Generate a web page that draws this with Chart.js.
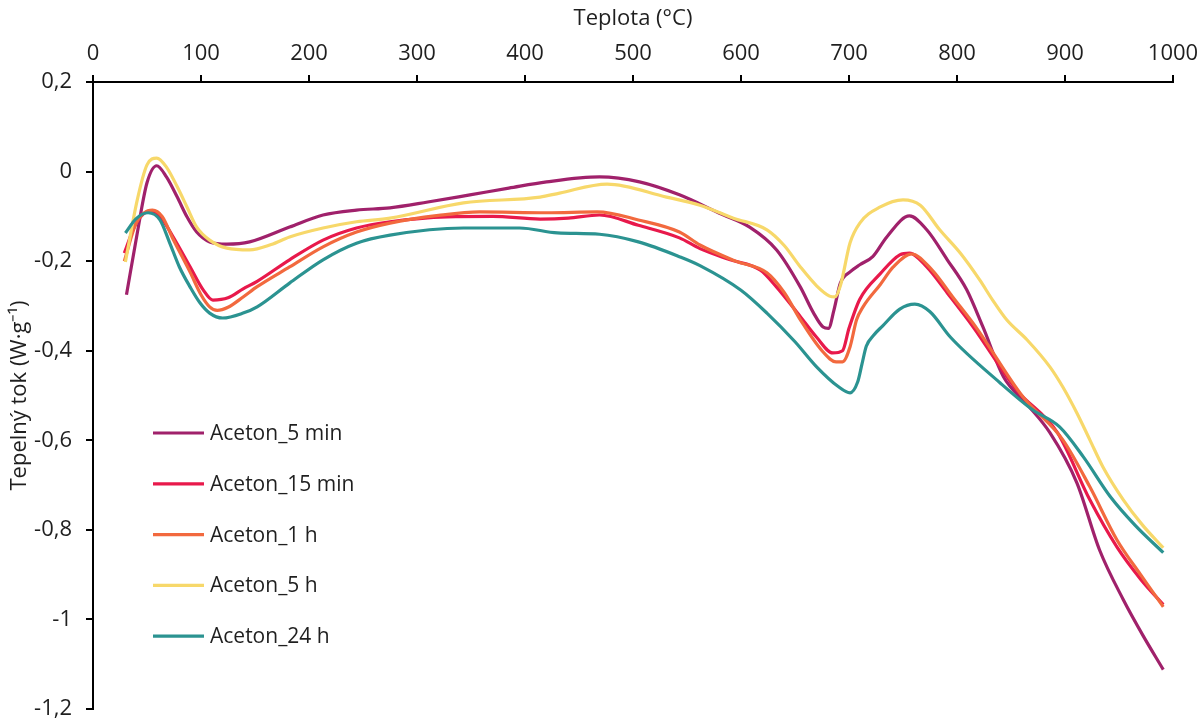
<!DOCTYPE html>
<html>
<head>
<meta charset="utf-8">
<script src="https://cdn.jsdelivr.net/npm/chart.js@4"></script>
<style>
  body { margin: 0; background: #fff; }
  canvas { display: block; }
</style>
</head>
<body>
<canvas id="dscChart" width="1202" height="722"></canvas>
<script>
// Series labels and colours
const seriesNames = ['Aceton_5 min', 'Aceton_15 min', 'Aceton_1 h', 'Aceton_5 h', 'Aceton_24 h'];
const seriesColors = ['#A0216B', '#E8194B', '#F2693E', '#F7D86A', '#2B9391'];

// Teplota (°C) / tepelny tok values
const temp5min = [31, 41, 50, 59, 68, 78, 87, 96, 108, 124, 145, 182, 213, 244, 275, 310, 349, 385, 420, 469, 506, 543, 580, 608, 633, 655, 667, 676, 681, 686, 692, 701, 710, 722, 735, 756, 772, 791, 809, 824, 843, 865, 886, 911, 932, 954, 972, 991];
const flow5min = [-0.275, -0.137, -0.025, 0.013, -0.012, -0.057, -0.101, -0.135, -0.157, -0.162, -0.157, -0.124, -0.097, -0.086, -0.081, -0.068, -0.052, -0.037, -0.023, -0.012, -0.023, -0.052, -0.093, -0.124, -0.175, -0.258, -0.315, -0.347, -0.35, -0.31, -0.249, -0.224, -0.208, -0.19, -0.146, -0.099, -0.13, -0.197, -0.264, -0.347, -0.458, -0.52, -0.583, -0.695, -0.845, -0.956, -1.035, -1.112];

const temp15min = [29, 40, 53, 62, 74, 90, 102, 111, 125, 139, 152, 182, 213, 244, 275, 328, 370, 414, 440, 469, 505, 543, 562, 590, 618, 633, 655, 670, 685, 694, 700, 710, 729, 747, 756, 772, 791, 815, 855, 893, 923, 948, 970, 991];
const flow15min = [-0.182, -0.115, -0.088, -0.1, -0.145, -0.213, -0.264, -0.287, -0.282, -0.262, -0.245, -0.197, -0.153, -0.126, -0.112, -0.101, -0.1, -0.106, -0.104, -0.097, -0.12, -0.148, -0.172, -0.197, -0.22, -0.258, -0.324, -0.37, -0.405, -0.4, -0.35, -0.285, -0.228, -0.186, -0.182, -0.213, -0.271, -0.347, -0.487, -0.583, -0.733, -0.838, -0.91, -0.967];

const temp1h = [29, 40, 55, 64, 74, 90, 100, 108, 115, 125, 139, 152, 182, 213, 244, 275, 320, 358, 420, 467, 505, 543, 562, 595, 624, 640, 655, 675, 688, 694, 701, 707, 713, 729, 741, 758, 777, 796, 818, 861, 898, 923, 948, 970, 991];
const flow1h = [-0.2, -0.115, -0.086, -0.1, -0.15, -0.225, -0.275, -0.302, -0.31, -0.303, -0.28, -0.257, -0.213, -0.168, -0.135, -0.115, -0.098, -0.09, -0.092, -0.09, -0.108, -0.135, -0.164, -0.2, -0.226, -0.27, -0.331, -0.4, -0.425, -0.425, -0.391, -0.331, -0.302, -0.252, -0.213, -0.184, -0.22, -0.28, -0.349, -0.503, -0.599, -0.704, -0.822, -0.9, -0.972];

const temp5h = [30, 41, 50, 59, 68, 78, 87, 96, 108, 124, 145, 165, 182, 213, 244, 275, 343, 414, 432, 476, 531, 562, 593, 624, 640, 655, 670, 682, 687, 692, 701, 710, 729, 750, 766, 784, 803, 821, 833, 846, 865, 886, 898, 911, 923, 935, 954, 972, 991];
const flow5h = [-0.202, -0.063, 0.015, 0.03, 0.01, -0.034, -0.079, -0.124, -0.153, -0.171, -0.175, -0.163, -0.146, -0.126, -0.112, -0.104, -0.07, -0.057, -0.048, -0.028, -0.057, -0.075, -0.104, -0.13, -0.165, -0.213, -0.255, -0.278, -0.28, -0.255, -0.159, -0.115, -0.079, -0.063, -0.075, -0.13, -0.182, -0.242, -0.287, -0.331, -0.376, -0.436, -0.481, -0.539, -0.599, -0.659, -0.733, -0.79, -0.84];

const temp24h = [30, 40, 51, 62, 71, 80, 90, 99, 108, 120, 139, 152, 182, 213, 244, 275, 343, 395, 430, 469, 505, 543, 562, 600, 624, 650, 670, 690, 701, 708, 712, 716, 723, 731, 747, 761, 775, 794, 840, 870, 895, 917, 942, 965, 991];
const flow24h = [-0.137, -0.105, -0.092, -0.108, -0.159, -0.213, -0.258, -0.293, -0.316, -0.327, -0.316, -0.302, -0.249, -0.197, -0.16, -0.142, -0.126, -0.126, -0.137, -0.14, -0.157, -0.19, -0.21, -0.265, -0.316, -0.38, -0.436, -0.48, -0.494, -0.47, -0.43, -0.39, -0.365, -0.345, -0.307, -0.296, -0.313, -0.37, -0.472, -0.532, -0.57, -0.637, -0.726, -0.79, -0.851];

const xTicksMin = 0, xTicksMax = 1000, xStep = 100;
const yTicksMin = -1.2, yTicksMax = 0.2, yStep = 0.2;

const allTemps = [temp5min, temp15min, temp1h, temp5h, temp24h];
const allFlows = [flow5min, flow15min, flow1h, flow5h, flow24h];

const tickFont = { family: 'Open Sans', size: 22 };
const textColor = '#1f1f1f';

const datasets = seriesNames.map((name, i) => ({
  label: name,
  data: allTemps[i].map((t, j) => ({ x: t, y: allFlows[i][j] })),
  borderColor: seriesColors[i],
  backgroundColor: seriesColors[i],
  borderWidth: 3.2,
  pointRadius: 0,
  cubicInterpolationMode: 'monotone',
  fill: false,
  order: seriesNames.length - i // later series on top, like the original
}));

// legend drawn inside the plot area, lines + labels
const insideLegend = {
  id: 'insideLegend',
  afterDatasetsDraw(chart) {
    const c = chart.ctx;
    c.save();
    c.font = '21px "Open Sans"';
    c.textBaseline = 'middle';
    c.fillStyle = textColor;
    chart.data.datasets.forEach((ds, i) => {
      const y = 433 + i * 50.8;
      c.strokeStyle = ds.borderColor;
      c.lineWidth = 3.2;
      c.beginPath();
      c.moveTo(153, y);
      c.lineTo(204, y);
      c.stroke();
      c.fillText(ds.label, 210, y + 1);
    });
    c.restore();
  }
};

const ctx = document.getElementById('dscChart').getContext('2d');
new Chart(ctx, {
  type: 'line',
  data: { datasets: datasets },
  plugins: [insideLegend],
  options: {
    responsive: false,
    animation: false,
    layout: { padding: { left: 0, right: 29, top: 0, bottom: 13 } },
    plugins: {
      legend: { display: false },
      tooltip: { enabled: false }
    },
    scales: {
      x: {
        type: 'linear',
        position: 'top',
        min: xTicksMin,
        max: xTicksMax,
        ticks: { stepSize: xStep, padding: 8, font: tickFont, color: textColor, maxRotation: 0, callback: (v) => String(v) },
        grid: { drawOnChartArea: false, drawTicks: true, tickLength: 7, color: '#000', lineWidth: 2 },
        border: { display: true, color: '#000', width: 2 },
        title: { display: true, text: 'Teplota (°C)', font: tickFont, color: textColor, padding: { top: 6, bottom: 0 } },
        afterFit: (scale) => { scale.height = 82; scale.paddingLeft = 0; scale.paddingRight = 0; }
      },
      y: {
        type: 'linear',
        min: yTicksMin,
        max: yTicksMax,
        ticks: {
          stepSize: yStep,
          padding: 14,
          font: tickFont,
          color: textColor,
          callback: (v) => String(Math.round(v * 10) / 10).replace('.', ',')
        },
        grid: { drawOnChartArea: false, drawTicks: true, tickLength: 7, color: '#000', lineWidth: 2 },
        border: { display: true, color: '#000', width: 2 },
        title: { display: true, text: 'Tepelný tok (W·g⁻¹)', font: tickFont, color: textColor, padding: { top: 7, bottom: 0 } },
        afterFit: (scale) => { scale.width = 93; scale.paddingTop = 0; scale.paddingBottom = 0; }
      }
    }
  }
});
</script>
</body>
</html>
